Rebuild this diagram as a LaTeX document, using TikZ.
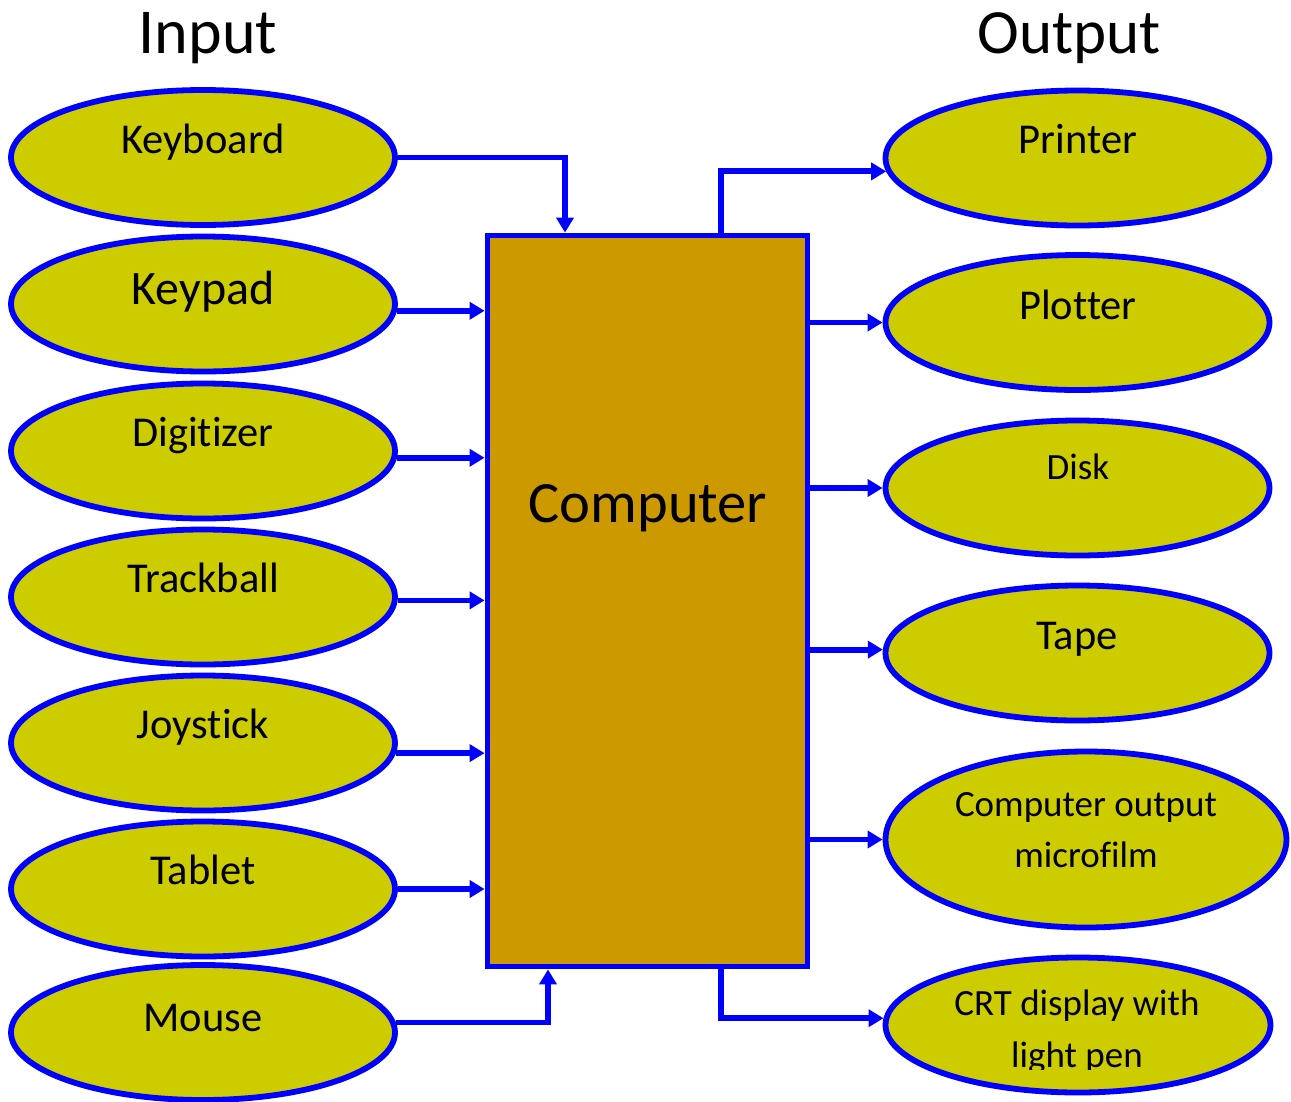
\documentclass[tikz,border=0pt]{standalone}
\usepackage{fontspec}
\setmainfont{Carlito}[Ligatures={NoCommon,NoContextual,NoRare,NoHistoric},Contextuals=NoAlternate]
\usetikzlibrary{arrows.meta,shapes.geometric}
\definecolor{ellfill}{HTML}{CCCC00}
\definecolor{boxfill}{HTML}{CC9900}
\definecolor{edgeblue}{HTML}{0000FF}
\begin{document}
\begin{tikzpicture}[x=1pt,y=-1pt,
  dev/.style={ellipse,draw=edgeblue,fill=ellfill,line width=5.8pt,inner sep=0pt,
              minimum width=384pt,minimum height=135pt},
  lbl/.style={anchor=base,inner sep=0pt,font=\fontsize{42.5}{50}\selectfont},
  small/.style={font=\fontsize{37}{44}\selectfont},
  conn/.style={draw=edgeblue,line width=5.8pt,-{Triangle[length=15pt,width=17pt]}},
  ]
\useasboundingbox (0,0) rectangle (1291,1101);

% headings
\node[lbl,font=\fontsize{64}{76}\selectfont] (inh) at (208,53) {Input};
\node[lbl,font=\fontsize{63}{76}\selectfont] (outh) at (1069,53) {Output};

% computer
\node[draw=edgeblue,fill=boxfill,line width=5.8pt,inner sep=0pt,
      minimum width=320pt,minimum height=731pt] (comp) at (647.5,601) {};
\node[lbl,font=\fontsize{58.5}{70}\selectfont] (compt) at (648,522) {Computer};

% input devices
\node[dev] (kb) at (203,157.5) {};
\node[dev] (kp) at (203,304) {};
\node[dev] (dg) at (203,451) {};
\node[dev] (tb) at (203,597) {};
\node[dev] (js) at (203,743) {};
\node[dev] (tl) at (203,889) {};
\node[dev] (ms) at (203,1032.5) {};

\node[lbl] (kbt) at (203,153) {Keyboard};
\node[lbl,font=\fontsize{48}{58}\selectfont] (kpt) at (203,304) {Keypad};
\node[lbl] (dgt) at (203,446) {Digitizer};
\node[lbl] (tbt) at (203,592) {Trackball};
\node[lbl] (jst) at (203,738) {Joys\kern0pt tick};
\node[lbl] (tlt) at (203,884) {Tablet};
\node[lbl] (mst) at (203,1031) {Mouse};

% output devices
\node[dev] (pr) at (1077.5,158) {};
\node[dev] (pl) at (1077.5,322.5) {};
\node[dev] (dk) at (1077.5,488) {};
\node[dev] (tp) at (1077.5,653) {};
\node[dev,minimum width=401pt,minimum height=176pt] (mf) at (1086,839.5) {};
\node[dev,minimum width=385pt] (crt) at (1078,1025) {};

\node[lbl] (prt) at (1078,153) {Printer};
\node[lbl] (plt) at (1078,319) {Plotter};
\node[lbl,small] (dkt) at (1078,479) {Disk};
\node[lbl] (tpt) at (1077,649) {Tape};
\node[lbl,small] (mft1) at (1086,816) {Computer output};
\node[lbl,small] (mft2) at (1086,867) {microfilm};
\node[lbl,small] (crt1) at (1077,1015) {CRT display with};
\begin{scope}
  \clip (900,1025) rectangle (1260,1069);
  \node[lbl,small] (crt2) at (1077,1067) {light pen};
\end{scope}

% input connectors
\draw[conn] (kb.east) -| ([xshift=-82.5pt]comp.north);
\draw[conn] (kp.358.5) -- (kp.358.5 -| comp.west);
\draw[conn] (dg.358.5) -- (dg.358.5 -| comp.west);
\draw[conn] (tb.359) -- (tb.359 -| comp.west);
\draw[conn] (js.357.9) -- (js.357.9 -| comp.west);
\draw[conn] (tl.0.9) -- (tl.0.9 -| comp.west);
\draw[conn] (ms.3.7) -| ([xshift=-99.5pt]comp.south);

% output connectors
\draw[conn] ([xshift=73.5pt]comp.north) |- (pr.184.2);
\draw[conn] (pl.west -| comp.east) -- (pl.west);
\draw[conn] (dk.west -| comp.east) -- (dk.west);
\draw[conn] (tp.179.4 -| comp.east) -- (tp.179.4);
\draw[conn] (mf.west -| comp.east) -- (mf.west);
\draw[conn] ([xshift=73.5pt]comp.south) |- (crt.178.5);
\end{tikzpicture}
\end{document}
